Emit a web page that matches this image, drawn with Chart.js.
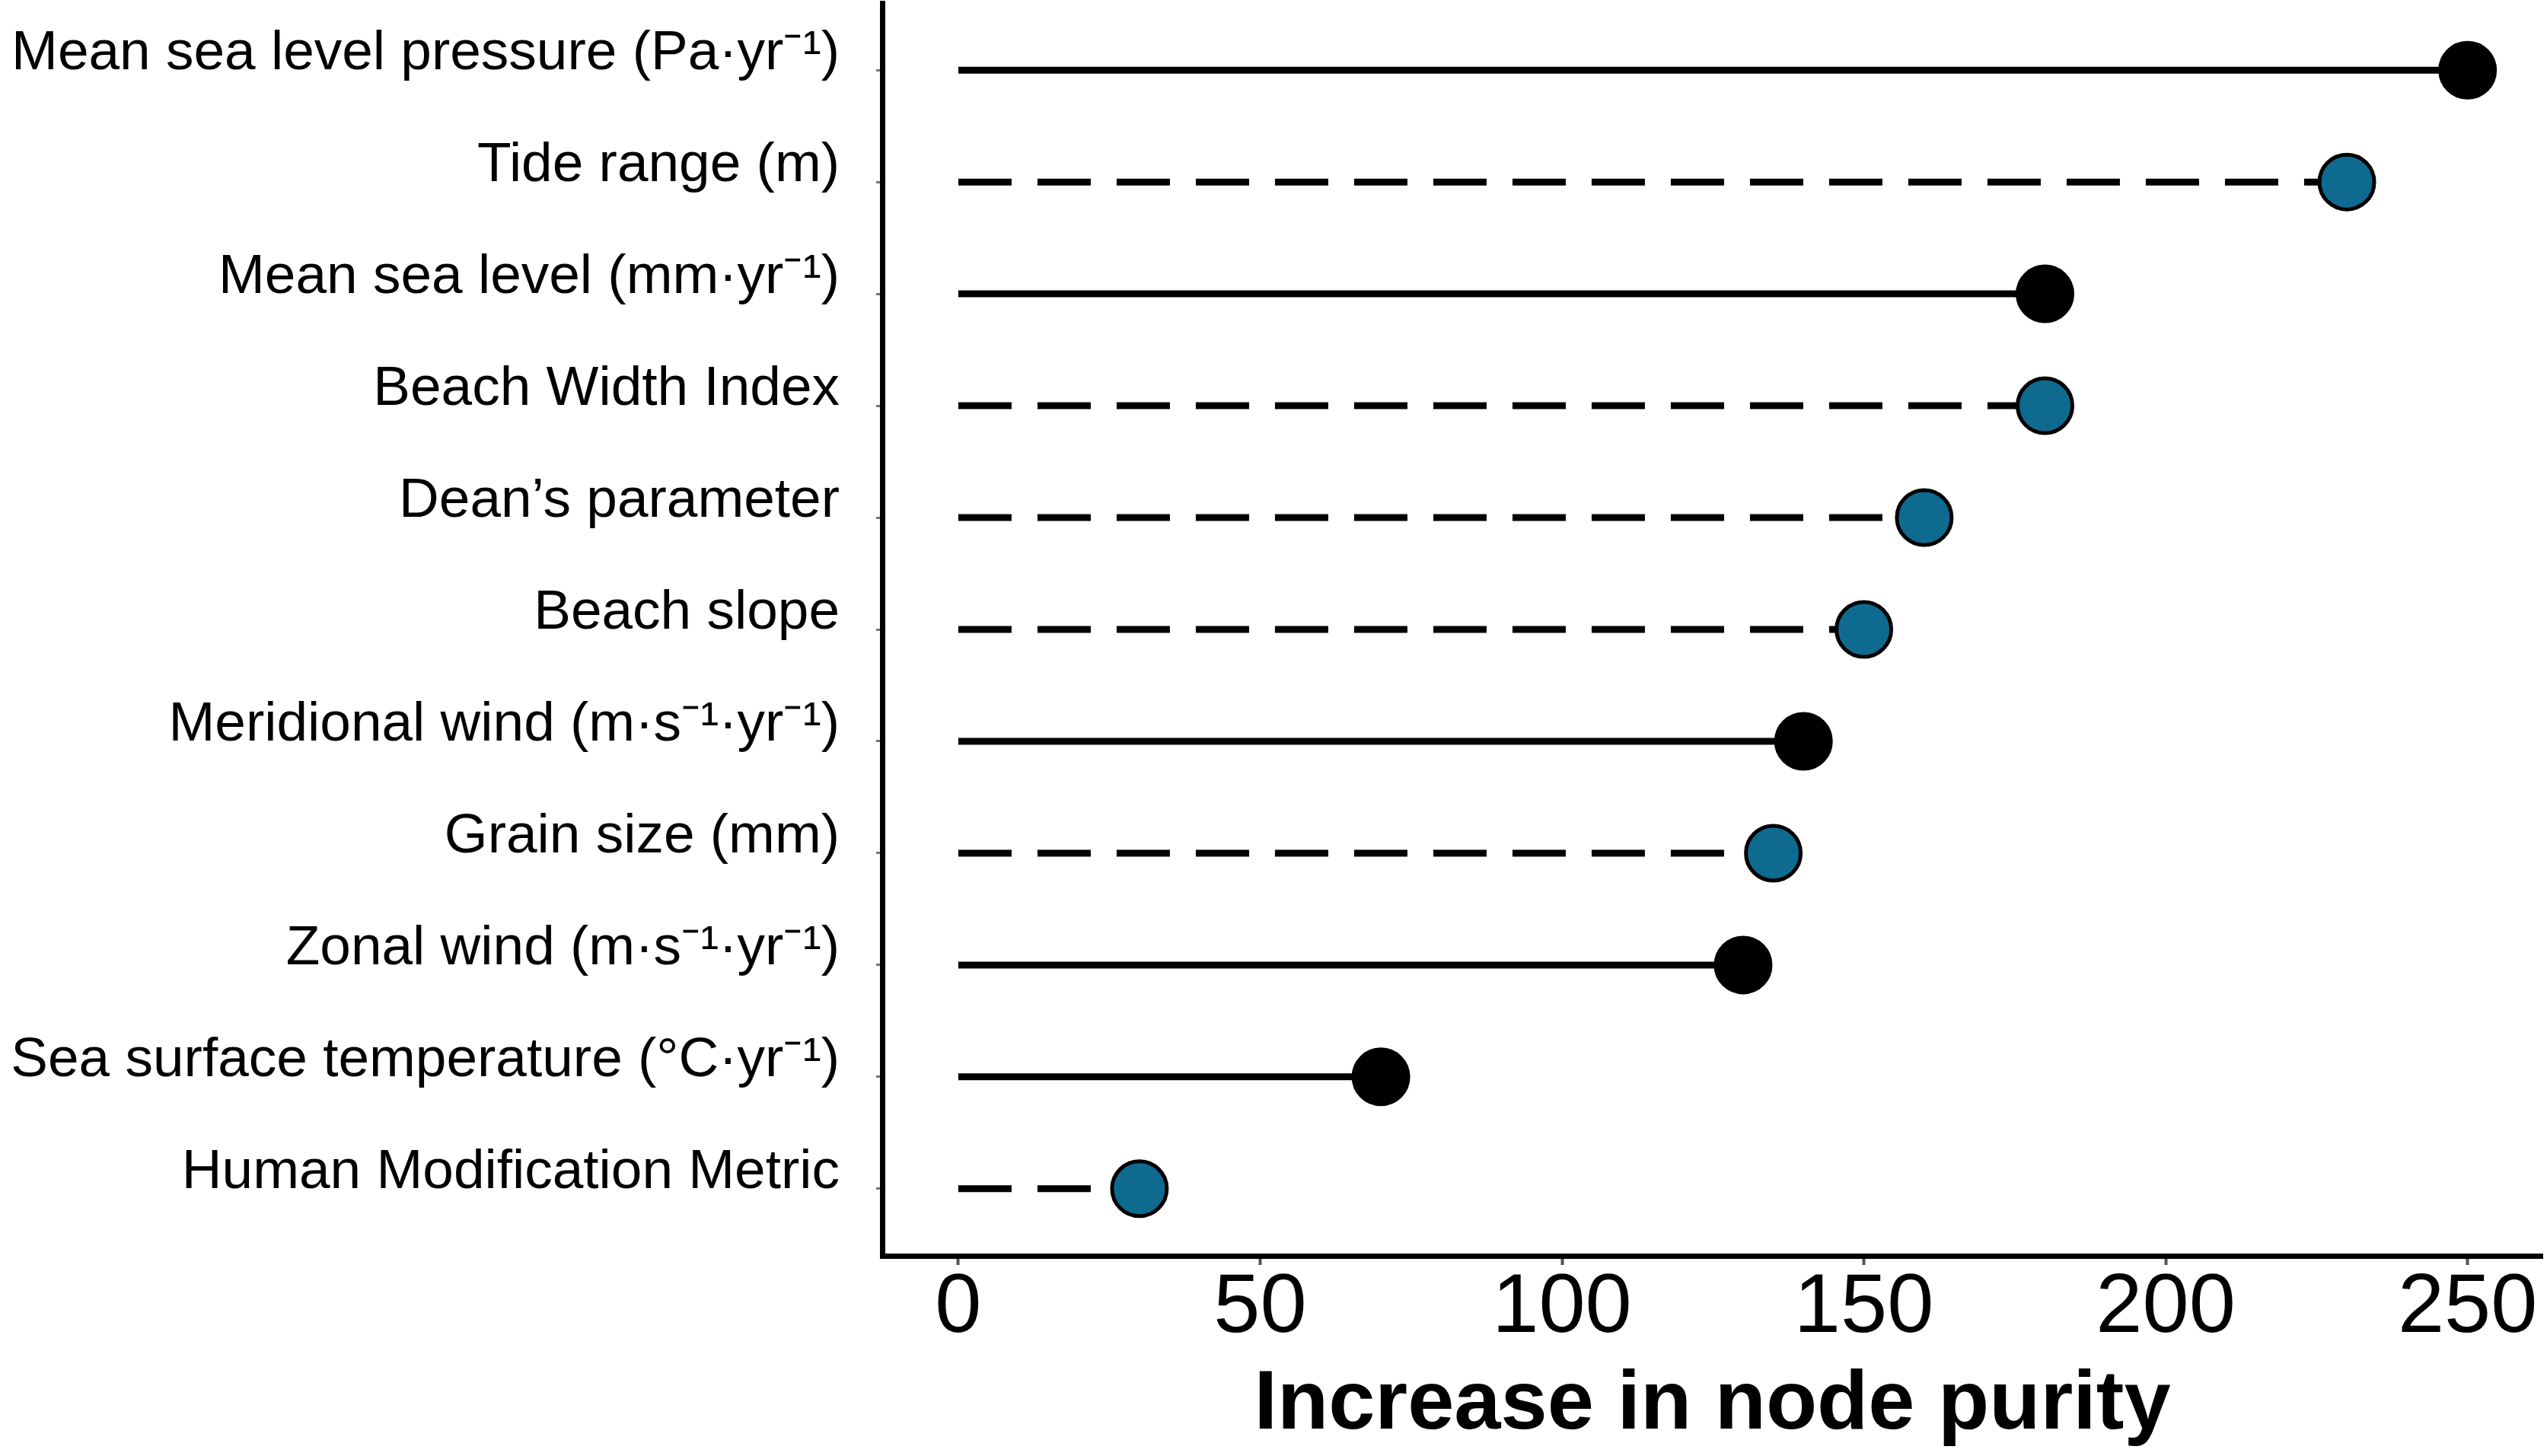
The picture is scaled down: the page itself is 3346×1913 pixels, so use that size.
<!DOCTYPE html>
<html>
<head>
<meta charset="utf-8">
<script src="https://cdn.jsdelivr.net/npm/chart.js@4.4.0/dist/chart.umd.min.js"></script>
<style>
  html, body { margin: 0; padding: 0; background: #fff; }
  #wrap { width: 3346px; height: 1913px; position: relative; }
</style>
</head>
<body>
<div id="wrap"><canvas id="chart"></canvas></div>
<script>
// variables, top to bottom
const variables = [
    'Mean sea level pressure (Pa\u00B7yr\u207B\u00B9)',
    'Tide range (m)',
    'Mean sea level (mm\u00B7yr\u207B\u00B9)',
    'Beach Width Index',
    'Dean\u2019s parameter',
    'Beach slope',
    'Meridional wind (m\u00B7s\u207B\u00B9\u00B7yr\u207B\u00B9)',
    'Grain size (mm)',
    'Zonal wind (m\u00B7s\u207B\u00B9\u00B7yr\u207B\u00B9)',
    'Sea surface temperature (\u00B0C\u00B7yr\u207B\u00B9)',
    'Human Modification Metric',
];
const nodePurity = [250, 230, 180, 180, 160, 150, 140, 135, 130, 70, 30];
// 'climate' = solid black, 'local' = dashed blue
const driverType = ['climate', 'local', 'climate', 'local', 'local', 'local', 'climate', 'local', 'climate', 'climate', 'local'];
const xTicks = [0, 50, 100, 150, 200, 250];
const xTitle = 'Increase in node purity';

const BLUE = '#0f6a90';
const FONT = '"Liberation Sans", Arial, sans-serif';

// one little line dataset per variable: stem from 0 to value, dot at the end
const datasets = variables.map((name, i) => {
    const local = driverType[i] === 'local';
    return {
        label: name,
        data: [{ x: 0, y: i }, { x: nodePurity[i], y: i }],
        borderColor: '#000',
        borderWidth: 9,
        borderDash: local ? [70, 34] : [],
        pointRadius: [0, 36],
        pointBackgroundColor: local ? BLUE : '#000',
        pointBorderColor: '#000',
        pointBorderWidth: 5,
        fill: false,
    };
});

const ctx = document.getElementById('chart');
new Chart(ctx, {
    type: 'line',
    data: { datasets },
    options: {
        responsive: true,
        maintainAspectRatio: false,
        devicePixelRatio: 1,
        animation: false,
        layout: { autoPadding: false, padding: { top: 4, right: 6, left: 0, bottom: 0 } },
        plugins: {
            legend: { display: false },
            tooltip: { enabled: false },
        },
        scales: {
            x: {
                type: 'linear',
                min: -12.6,
                max: 262.4,
                afterBuildTicks: (scale) => {
                    scale.ticks = xTicks.map(v => ({ value: v }));
                },
                afterFit: (scale) => {
                    scale.height = 263;
                    scale.paddingLeft = 0;
                    scale.paddingRight = 0;
                },
                grid: { drawOnChartArea: false, drawTicks: true, tickLength: 12, tickWidth: 4, tickColor: '#555' },
                border: { display: true, color: '#000', width: 7 },
                ticks: {
                    color: '#000',
                    padding: -8,
                    font: { size: 110, family: FONT },
                },
                title: {
                    display: true,
                    text: xTitle,
                    color: '#000',
                    padding: { top: 0, bottom: 0 },
                    font: { size: 110, weight: 'bold', family: FONT },
                },
            },
            y: {
                type: 'linear',
                reverse: true,
                min: -0.6,
                max: 10.6,
                afterBuildTicks: (scale) => {
                    scale.ticks = variables.map((_, i) => ({ value: i }));
                },
                afterFit: (scale) => {
                    scale.width = 1159;
                    scale.paddingTop = 0;
                    scale.paddingBottom = 0;
                },
                grid: { drawOnChartArea: false, drawTicks: true, tickLength: 8, tickWidth: 3, tickColor: '#777' },
                border: { display: true, color: '#000', width: 7 },
                ticks: {
                    color: '#000',
                    padding: 48,
                    labelOffset: -21,
                    font: { size: 73, family: FONT },
                    callback: (v) => variables[v],
                },
            },
        },
    },
});
</script>
</body>
</html>
